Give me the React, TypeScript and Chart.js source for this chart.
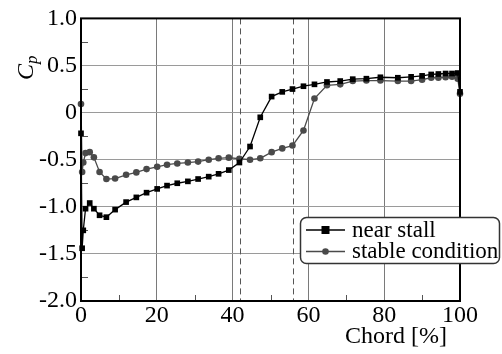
import React, { useEffect, useRef } from 'react';
import { Chart, registerables } from 'chart.js';

Chart.register(...registerables);

// Pressure tap positions along the chord [%]
const chordTaps = [0, 0.3, 0.6, 1.2, 2.3, 3.4, 4.9, 6.7, 9.0, 11.9, 14.6, 17.3, 20.1, 22.7, 25.4, 28.2, 30.9, 33.7, 36.3, 39.0, 41.8, 44.6, 47.3, 50.3, 53.1, 55.8, 58.7, 61.6, 64.9, 68.4, 71.7, 75.3, 79.0, 83.6, 87.1, 90.0, 92.4, 94.3, 96.2, 97.9, 99.4, 100];

const nearStallCp = [-0.22, -1.44, -1.25, -1.02, -0.96, -1.02, -1.09, -1.11, -1.03, -0.95, -0.90, -0.85, -0.81, -0.775, -0.75, -0.73, -0.705, -0.68, -0.65, -0.61, -0.53, -0.36, -0.05, 0.17, 0.22, 0.25, 0.28, 0.30, 0.325, 0.335, 0.355, 0.36, 0.375, 0.37, 0.38, 0.39, 0.405, 0.41, 0.415, 0.415, 0.42, 0.22];

const stableCp = [0.09, -0.63, -0.53, -0.43, -0.42, -0.475, -0.63, -0.705, -0.70, -0.66, -0.635, -0.60, -0.575, -0.553, -0.54, -0.53, -0.52, -0.50, -0.485, -0.478, -0.49, -0.50, -0.485, -0.42, -0.38, -0.35, -0.19, 0.15, 0.29, 0.30, 0.335, 0.34, 0.34, 0.335, 0.335, 0.35, 0.37, 0.37, 0.375, 0.38, 0.36, 0.20];

const seriesLabels = ['near stall', 'stable condition'];
const dashedMarkers = [42, 56];
const xMinorTicks = [10, 30, 50, 70, 90];
const yMinorTicks = [0.75, 0.25, -0.25, -0.75, -1.25, -1.75];
const xTitle = 'Chord [%]';

const FONT = '"Liberation Serif"';
const STALL_COLOR = '#000000';
const STABLE_COLOR = '#4a4a4a';

const decorPlugin = {
  id: 'decor',
  beforeDraw(chart: any) {
    const { ctx, width, height } = chart;
    ctx.save();
    ctx.fillStyle = '#ffffff';
    ctx.fillRect(0, 0, width, height);
    ctx.restore();
  },
  beforeDatasetsDraw(chart: any) {
    const { ctx, chartArea, scales } = chart;
    const { top, bottom, left } = chartArea;
    const x = scales.x;
    const y = scales.y;
    ctx.save();
    ctx.setLineDash([6, 4]);
    ctx.strokeStyle = '#555555';
    ctx.lineWidth = 1;
    for (const v of dashedMarkers) {
      const px = Math.round(x.getPixelForValue(v)) + 0.5;
      ctx.beginPath();
      ctx.moveTo(px, top);
      ctx.lineTo(px, bottom);
      ctx.stroke();
    }
    ctx.setLineDash([]);
    ctx.strokeStyle = '#555555';
    for (const v of xMinorTicks) {
      const px = Math.round(x.getPixelForValue(v)) + 0.5;
      ctx.beginPath();
      ctx.moveTo(px, bottom);
      ctx.lineTo(px, bottom - 6);
      ctx.stroke();
    }
    for (const v of yMinorTicks) {
      const py = Math.round(y.getPixelForValue(v)) + 0.5;
      ctx.beginPath();
      ctx.moveTo(left, py);
      ctx.lineTo(left + 7, py);
      ctx.stroke();
    }
    ctx.restore();
  },
  afterDraw(chart: any) {
    const { ctx, chartArea } = chart;
    const { top, bottom, left, right } = chartArea;
    ctx.save();
    ctx.strokeStyle = '#000';
    ctx.lineWidth = 2;
    ctx.strokeRect(left, top, right - left, bottom - top);

    // y title C_p
    ctx.fillStyle = '#000';
    ctx.save();
    ctx.translate(33, 80);
    ctx.rotate(-Math.PI / 2);
    ctx.font = `italic 24px ${FONT}`;
    ctx.textAlign = 'left';
    ctx.textBaseline = 'alphabetic';
    ctx.fillText('C', 0, 0);
    const cw = ctx.measureText('C').width;
    ctx.font = `italic 17px ${FONT}`;
    ctx.fillText('p', cw, 4);
    ctx.restore();

    // x title
    ctx.font = `24px ${FONT}`;
    ctx.textAlign = 'center';
    ctx.textBaseline = 'alphabetic';
    ctx.fillText(xTitle, 396, 343);

    // legend
    const bx = 300.5, by = 217.5, bw = 199, bh = 46;
    ctx.beginPath();
    ctx.roundRect(bx, by, bw, bh, 6);
    ctx.fillStyle = '#fff';
    ctx.fill();
    ctx.strokeStyle = '#333';
    ctx.lineWidth = 1.5;
    ctx.stroke();

    const rows = [
      { y: 230, color: STALL_COLOR, shape: 'square', label: chart.data.datasets[0].label },
      { y: 251.5, color: STABLE_COLOR, shape: 'circle', label: chart.data.datasets[1].label },
    ];
    for (const r of rows) {
      ctx.strokeStyle = r.color;
      ctx.lineWidth = 1.3;
      ctx.beginPath();
      ctx.moveTo(306, r.y);
      ctx.lineTo(345, r.y);
      ctx.stroke();
      ctx.fillStyle = r.color;
      if (r.shape === 'square') {
        ctx.fillRect(321.5, r.y - 4, 8, 8);
      } else {
        ctx.beginPath();
        ctx.arc(325.5, r.y, 3.3, 0, Math.PI * 2);
        ctx.fill();
      }
      ctx.fillStyle = '#000';
      ctx.font = `23px ${FONT}`;
      ctx.textAlign = 'left';
      ctx.textBaseline = 'alphabetic';
      ctx.fillText(r.label, 352, r.y + 6.5);
    }
    ctx.restore();
  },
};

export default function App() {
  const canvasRef = useRef<HTMLCanvasElement | null>(null);

  useEffect(() => {
    document.body.style.margin = '0';
    const canvas = canvasRef.current;
    if (!canvas) return;
    const chart = new Chart(canvas, {
      type: 'scatter',
      data: {
        datasets: [
          {
            label: seriesLabels[0],
            data: chordTaps.map((c, i) => ({ x: c, y: nearStallCp[i] })),
            showLine: true,
            borderColor: STALL_COLOR,
            backgroundColor: STALL_COLOR,
            borderWidth: 1.3,
            pointStyle: 'rect',
            pointRadius: 4,
            pointBorderWidth: 0,
            clip: false,
          },
          {
            label: seriesLabels[1],
            data: chordTaps.map((c, i) => ({ x: c, y: stableCp[i] })),
            showLine: true,
            borderColor: STABLE_COLOR,
            backgroundColor: STABLE_COLOR,
            borderWidth: 1.3,
            pointStyle: 'circle',
            pointRadius: 3.3,
            pointBorderWidth: 0,
            clip: false,
          },
        ],
      },
      options: {
        animation: false,
        responsive: true,
        maintainAspectRatio: false,
        layout: { padding: { top: 17, right: 42, left: 0, bottom: 0 } },
        plugins: { legend: { display: false }, tooltip: { enabled: false } },
        scales: {
          x: {
            type: 'linear',
            min: 0,
            max: 100,
            ticks: {
              stepSize: 20,
              padding: 0,
              color: '#000',
              font: { family: FONT, size: 24 },
            },
            grid: { color: '#7a7a7a', lineWidth: 1, drawTicks: false },
            border: { display: false },
            afterFit(scale: any) {
              scale.height = 53;
            },
          },
          y: {
            type: 'linear',
            min: -2,
            max: 1,
            ticks: {
              stepSize: 0.5,
              padding: 4,
              color: '#000',
              font: { family: FONT, size: 24 },
              callback: (v: any) => (Number(v) === 0 ? '0' : Number(v).toFixed(1)),
            },
            grid: { color: '#9a9a9a', lineWidth: 1, drawTicks: false },
            border: { display: false },
            afterFit(scale: any) {
              scale.width = 81;
            },
          },
        },
      },
      plugins: [decorPlugin],
    });
    return () => {
      chart.destroy();
    };
  }, []);

  return (
    <div style={{ width: 502, height: 354, position: 'relative' }}>
      <canvas ref={canvasRef} />
    </div>
  );
}
